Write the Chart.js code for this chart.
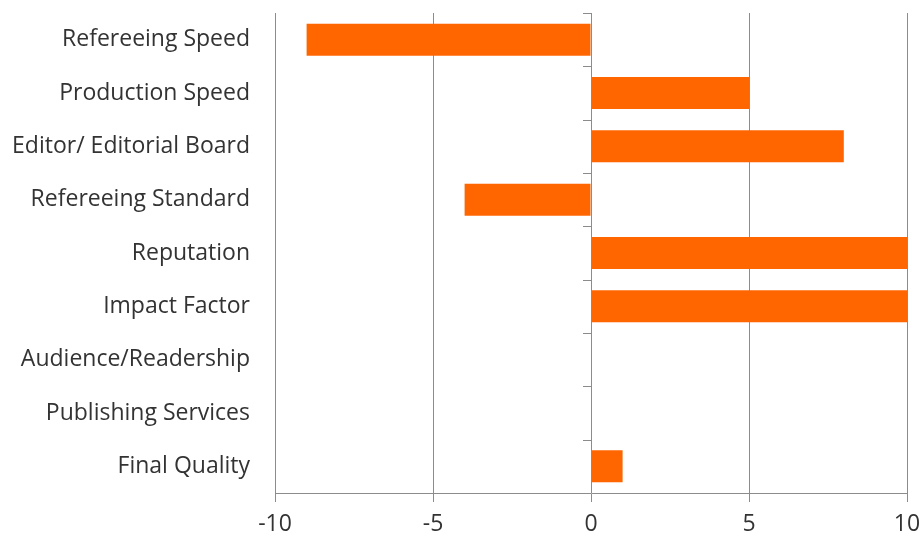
<!DOCTYPE html>
<html>
<head>
<meta charset="utf-8">
<script src="https://cdn.jsdelivr.net/npm/chart.js@4/dist/chart.umd.min.js"></script>
<style>
html,body{margin:0;padding:0;background:#fff;}
#wrap{width:923px;height:540px;}
</style>
</head>
<body>
<div id="wrap"><canvas id="c"></canvas></div>
<script>
const categories = ["Refereeing Speed","Production Speed","Editor/ Editorial Board","Refereeing Standard","Reputation","Impact Factor","Audience/Readership","Publishing Services","Final Quality"];
const values = [-9, 5, 8, -4, 10, 10, 0, 0, 1];
const xTicks = [-10, -5, 0, 5, 10];

const gridColor = '#8c8c8c';
const zeroAxisTicks = {
  id: 'zeroAxisTicks',
  afterDatasetsDraw(chart) {
    const ctx = chart.ctx, xs = chart.scales.x, ys = chart.scales.y;
    const x0 = xs.getPixelForValue(0);
    const n = categories.length;
    const step = (ys.bottom - ys.top) / n;
    ctx.save();
    ctx.strokeStyle = gridColor;
    ctx.lineWidth = 1;
    ctx.beginPath();
    for (let i = 0; i <= n; i++) {
      const y = Math.round(ys.top + i * step) + 0.5;
      ctx.moveTo(x0 - 8, y);
      ctx.lineTo(x0, y);
    }
    ctx.moveTo(Math.round(x0) + 0.5, ys.top);
    ctx.lineTo(Math.round(x0) + 0.5, ys.bottom);
    ctx.stroke();
    ctx.restore();
  }
};

new Chart(document.getElementById('c'), {
  type: 'bar',
  data: {
    labels: categories,
    datasets: [{
      data: values,
      backgroundColor: '#FF6600',
      borderWidth: 0,
      barPercentage: 0.6,
      categoryPercentage: 1.0
    }]
  },
  options: {
    indexAxis: 'y',
    responsive: true,
    maintainAspectRatio: false,
    animation: false,
    layout: { padding: { top: 13, right: 16, bottom: 0, left: 0 } },
    plugins: { legend: { display: false }, tooltip: { enabled: false } },
    scales: {
      x: {
        min: -10, max: 10,
        afterBuildTicks(scale) { scale.ticks = xTicks.map(v => ({ value: v })); },
        afterFit(scale) { scale.height = 47; scale.paddingLeft = 0; scale.paddingRight = 0; },
        grid: { color: gridColor, lineWidth: 1, drawTicks: true, tickLength: 9, tickColor: gridColor },
        border: { display: true, color: gridColor },
        ticks: { color: '#333', font: { family: 'Open Sans', size: 23 }, padding: 9 }
      },
      y: {
        grid: { display: false },
        border: { display: false },
        afterFit(scale) { scale.width = 275; scale.paddingTop = 0; scale.paddingBottom = 0; },
        ticks: { color: '#333', font: { family: 'Open Sans', size: 23 }, padding: 17 }
      }
    }
  },
  plugins: [zeroAxisTicks]
});
</script>
</body>
</html>
